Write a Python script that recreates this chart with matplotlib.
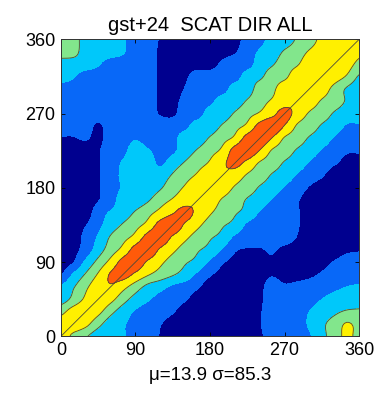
import numpy as np
import matplotlib
matplotlib.use("Agg")
import matplotlib.pyplot as plt

# Direction bins (degrees) on both axes
model_dir = list(range(0, 361, 15))
scat_dir = list(range(0, 361, 15))

# Binned log-density level of scatterometer vs model direction.
# Rows run from scat dir 360 (top) down to 0 (bottom); columns model dir 0..360.
density_rows = [
    [3.2,3,2,2,2,1.6,1,1,0.4,0,0,0,0,0.1,0.2,0.8,1.2,1.8,2,2.6,3,3.8,4,4,4.3],
    [3.1,2.9,2,2,2,1.6,1,1,0.3,0,0,0,0,0.1,0.4,1,1.6,2,2.6,3,3.6,4,4,4.3,3.8],
    [2,2,2,1.6,1,1,1,1,0.3,0,0,0,0,0.7,1,1,2,2.4,3,3.4,4,4,4.3,4,3.2],
    [2,1.6,1,1,1,1,1,1,0.3,0,0.3,1,1,1,1,2,2.3,3,3.3,4,4,4.3,4,3.4,2.4],
    [1,1,1,1,1,1,1,1,0.3,0,0.55,1,1,1,2,2,3,3.3,4,4,4.3,4,3.2,2.4,2],
    [1,1,1,1,1,1,1,1,0.3,0.2,0.8,1,1.2,2,2,2.6,3.2,3.6,4,4.3,4,3.4,3,2.4,2],
    [1,1,1,1,1,1,1,1,0.4,0.3,1,1,2,2,2.6,3.2,3.6,4.2,4.9,4.1,3.4,3,2.4,2,1.8],
    [1,1,1,0.3,1,1,1,1,1,1,1.2,2,2,2.6,3.2,3.7,4.85,5.2,4.45,3.4,3,2.4,2,1.4,1.4],
    [0.4,0.4,0.6,0.2,1,1,1.4,1,1,1.2,2,2,2.6,3.2,3.7,4.9,5.2,4.45,3.4,3,2.4,2,1.4,1,0.8],
    [0,0,0,0.4,1,1.2,2,1.6,1.1,1.3,2,2.6,3.2,3.7,4.9,5.2,4.45,3.4,3,2.4,2,1.4,1,0.6,0.6],
    [0,0,0,0.4,1,1.6,2,2,1.3,2,2.6,3.2,3.6,4.3,4.8,4.2,3.4,3,2.4,2,1.4,1,0.6,0.2,0],
    [0,0,0,0.4,1,1.7,2,2,2,2.6,3.2,3.6,4,4.3,4,3.4,3,2.4,2,1.4,1,0.6,0,0,0],
    [0,0,0,0.4,1,1.6,2,2,2.4,3.1,3.6,4,4.3,4,3.4,3,2.4,2,1.4,1,0.4,0,0,0,0],
    [0,0,0,0.45,1,2,2,2.4,3.1,3.6,4,4.3,4,3.4,3,2.4,2,1.4,1,0.6,0,0,0,0,0],
    [0,0,0,1,1.6,2,2.6,3.2,3.8,4.4,4.9,4.2,3.6,3.1,2.6,2.2,1.4,1,1,0.6,0,0,0,0,0],
    [0,0,0.45,1.2,2,2.6,3.2,3.8,4.9,5.2,4.35,3.7,3.1,2.6,2.2,1.3,1,1,1,0.6,0,0,0,0,0],
    [0,0,0.8,1.6,2.6,3.2,3.8,4.9,5.2,4.35,3.7,3.1,2.6,2.2,1.3,1,1,1,1,0.45,0,0,0,0,0],
    [0,0.2,0.9,2,3,3.8,4.9,5.2,4.35,3.7,3.1,2.6,2.2,1.4,0.6,0.4,0.4,0.6,0.2,0,0,0,0,0.3,0.4],
    [0,0.45,1.7,2.8,3.8,4.85,5.1,4.35,3.7,3.1,2.6,2.2,1.3,0.6,0.2,0,0.2,0.4,0,0,0,0.2,0.55,0.9,1],
    [0.45,1.6,2.6,3.6,4.6,4.9,4.3,3.6,3.1,2.6,2.1,1.3,0.6,0.2,0,0,0.2,0.45,0.2,0.2,0.3,0.6,0.9,1.1,1.2],
    [1.6,2.4,3.3,4.1,4.4,3.8,3.0,2.2,1.8,1.3,1,0.6,0,0,0,0,0.3,0.8,0.6,0.7,0.9,1.1,1.3,1.5,1.6],
    [2,2.8,3.7,4.3,3.8,2.9,2.1,1.6,1.2,1,0.6,0.1,0,0,0,0,0.3,1,1,1,1.2,1.5,1.8,2,2.2],
    [3.2,4,4.3,3.8,2.8,2,1.4,1.1,1,0.6,0,0,0,0,0,0,0.4,1,1,1.2,1.5,1.9,2.3,2.6,2.6],
    [4,4.3,3.8,2.8,2,1.6,1.2,1,0.55,0,0,0,0,0,0,0,0.4,1.3,1,1.2,1.6,2.3,2.9,3.6,3.2],
    [4.3,3.2,2.6,2,2,1.6,1,0.8,0.45,0,0,0,0,0,0,0,0.3,1,1,1.2,1.4,2.2,3,3.7,3.2],
]

fill_levels = [-1, 0.5, 1.5, 2.5, 3.5, 4.5, 6]
line_levels = [2.5, 3.5, 4.5]
fill_colors = ["#00008f", "#0868f8", "#00c8fa", "#82e68c", "#fff000", "#ff5a0a"]

tick_values = [0, 90, 180, 270, 360]
title_text = "gst+24  SCAT DIR ALL"
stats_text = "\u03bc=13.9 \u03c3=85.3"

plt.rcParams["font.family"] = ["Liberation Sans", "DejaVu Sans"]


def cubic_matrix(n, m):
    """Catmull-Rom resampling matrix taking n samples to m samples."""
    u = np.linspace(0, n - 1, m)
    i = np.clip(np.floor(u).astype(int), 0, n - 2)
    t = u - i
    a = -0.5
    W = np.zeros((m, n))
    rows = np.arange(m)
    for off in (-1, 0, 1, 2):
        x = np.abs(t - off)
        w = np.where(x <= 1, (a + 2) * x**3 - (a + 3) * x**2 + 1,
                     np.where(x < 2, a * x**3 - 5 * a * x**2 + 8 * a * x - 4 * a, 0.0))
        np.add.at(W, (rows, np.clip(i + off, 0, n - 1)), w)
    return W


Z = np.flipud(np.array(density_rows, dtype=float))
fine = 6 * (len(model_dir) - 1) + 1
Zf = cubic_matrix(Z.shape[0], fine) @ Z @ cubic_matrix(Z.shape[1], fine).T
xf = np.linspace(model_dir[0], model_dir[-1], fine)
yf = np.linspace(scat_dir[0], scat_dir[-1], fine)

fig = plt.figure(figsize=(3.90, 3.93), dpi=100)
ax = fig.add_axes([0.156, 0.144, 0.765, 0.756])

ax.contourf(xf, yf, Zf, levels=fill_levels, colors=fill_colors)
ax.contour(xf, yf, Zf, levels=line_levels, colors="#4a4a3a", linewidths=0.6)
ax.plot([0, 360], [0, 360], color="#4a4a3a", linewidth=0.6)

ax.set_xlim(0, 360)
ax.set_ylim(0, 360)
ax.set_xticks(tick_values)
ax.set_yticks(tick_values)
ax.tick_params(direction="in", length=3, width=0.6, labelsize=13,
               top=True, right=True, pad=4)
for s in ax.spines.values():
    s.set_linewidth(0.7)
    s.set_color("#333333")

ax.set_title(title_text, fontsize=14.5, pad=6)
ax.set_xlabel(stats_text, fontsize=13.5, labelpad=6)

fig.savefig("out.png", dpi=100)
